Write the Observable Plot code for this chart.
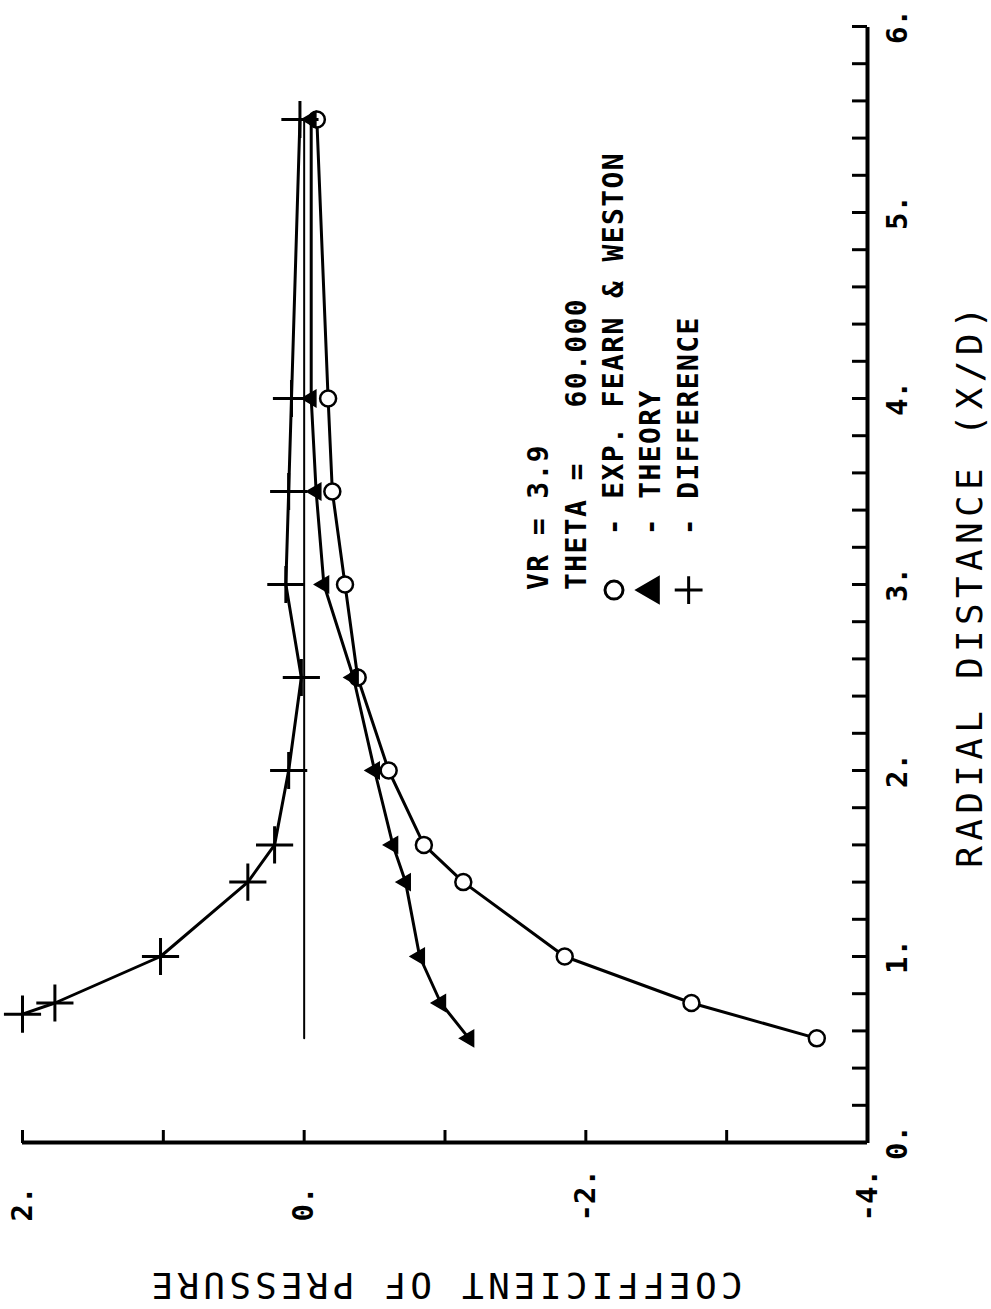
<!DOCTYPE html>
<html><head><meta charset="utf-8">
<script src="https://cdn.jsdelivr.net/npm/d3@7"></script>
<script src="https://cdn.jsdelivr.net/npm/@observablehq/plot@0.6"></script>
<style>
html,body{margin:0;padding:0;background:#fff;}
#wrap{position:relative;width:991px;height:1309px;overflow:hidden;background:#fff;}
#wrap svg{position:absolute;left:0;top:0;max-width:none !important;width:1309px !important;height:991px !important;transform-origin:0 0;transform:translate(0px,1309px) rotate(-90deg);}
#wrap svg text{white-space:pre;}
</style></head><body><div id="wrap"></div>
<script>
// ---- data ----
const radialDistance = [0.56, 0.75, 1.0, 1.4, 1.6, 2.0, 2.5, 3.0, 3.5, 4.0, 5.5];
const cpExperiment   = [-3.64, -2.75, -1.85, -1.13, -0.85, -0.60, -0.38, -0.29, -0.20, -0.17, -0.09];
const cpTheory       = [-1.17, -0.97, -0.82, -0.72, -0.63, -0.50, -0.35, -0.14, -0.085, -0.05, -0.05];
const diffDistance   = [0.69, 0.75, 1.0, 1.4, 1.6, 2.0, 2.5, 3.0, 3.5, 4.0, 5.5];
const cpDifference   = [2.0, 1.77, 1.02, 0.40, 0.21, 0.11, 0.02, 0.13, 0.11, 0.09, 0.03];
const zeroLineDistance = [0.56, 5.5];
const xMinorTicks = [0,0.2,0.4,0.6,0.8,1,1.2,1.4,1.6,1.8,2,2.2,2.4,2.6,2.8,3,3.2,3.4,3.6,3.8,4,4.2,4.4,4.6,4.8,5,5.2,5.4,5.6,5.8,6];
const xTickLabels = [0, 1, 2, 3, 4, 5, 6];
const yTicks = [2, 1, 0, -1, -2, -3, -4];
const yTickLabels = [2, 0, -2, -4];
const legendLines = ["VR = 3.9", "THETA =   60.000", "   - EXP. FEARN & WESTON", "   - THEORY", "   - DIFFERENCE"];
const legendSymbols = ["circle", "triangle", "plus"];
const xTitle = "RADIAL DISTANCE (X/D)";
const yTitle = "COEFFICIENT OF PRESSURE";

// ---- tables ----
const exp = radialDistance.map((x, i) => ({x, y: cpExperiment[i]}));
const theo = radialDistance.map((x, i) => ({x, y: cpTheory[i]}));
const diff = diffDistance.map((x, i) => ({x, y: cpDifference[i]}));
const zero = zeroLineDistance.map(x => ({x, y: 0}));

const W = 1309, H = 991;
const mL = 166, mR = 27, mT = 22, mB = 124;
const FONT = "DejaVu Sans Mono, Liberation Mono, monospace";

// legend anchor (annotation, in data units)
const legX = 2.97, legY0 = -1.67, legStep = -0.265;
const legend = legendLines.map((t, i) => ({t, x: legX, y: legY0 + i * legStep}));
const legendSym = legendSymbols.map((s, i) => ({s, x: legX, y: legY0 + (i + 2) * legStep}));

const svg = Plot.plot({
  width: W, height: H,
  marginLeft: mL, marginRight: mR, marginTop: mT, marginBottom: mB,
  x: {domain: [0, 6], axis: null},
  y: {domain: [-4, 2], axis: null},
  style: {background: "white", color: "black"},
  marks: [
    Plot.ruleY([-4], {stroke: "black", strokeWidth: 4}),
    Plot.ruleX([0], {stroke: "black", strokeWidth: 4}),
    Plot.tickX(xMinorTicks, {x: d => d, insetTop: (H - mT - mB) - 15, stroke: "black", strokeWidth: 3}),
    Plot.tickY(yTicks, {y: d => d, insetRight: (W - mL - mR) - 13, stroke: "black", strokeWidth: 3}),
    Plot.text(xTickLabels, {x: d => d, frameAnchor: "bottom", dy: 30, text: d => d + ".", lineAnchor: "middle",
      fontFamily: FONT, fontSize: 29, fontWeight: "bold", fill: "black"}),
    Plot.text(yTickLabels, {y: d => d, frameAnchor: "left", dx: -79, text: d => d + ".", textAnchor: "start", lineAnchor: "middle",
      fontFamily: FONT, fontSize: 29, fontWeight: "bold", fill: "black"}),
    Plot.text([xTitle], {frameAnchor: "bottom", dy: 103, text: d => d, textAnchor: "middle", lineAnchor: "middle",
      fontFamily: FONT, fontSize: 36, fill: "black"}),
    Plot.text([yTitle], {frameAnchor: "left", dx: -142, rotate: -90, text: d => d, textAnchor: "middle", lineAnchor: "middle",
      fontFamily: FONT, fontSize: 36, fill: "black"}),
    Plot.line(zero, {x: "x", y: "y", stroke: "black", strokeWidth: 2}),
    Plot.line(exp, {x: "x", y: "y", stroke: "black", strokeWidth: 3}),
    Plot.line(theo, {x: "x", y: "y", stroke: "black", strokeWidth: 3}),
    Plot.line(diff, {x: "x", y: "y", stroke: "black", strokeWidth: 3}),
    Plot.dot(exp, {x: "x", y: "y", symbol: "circle", r: 8, stroke: "black", strokeWidth: 2.5, fill: "white"}),
    Plot.dot(theo, {x: "x", y: "y", symbol: "triangle", r: 6, fill: "black", stroke: "black", strokeWidth: 1.5}),
    Plot.dot(diff, {x: "x", y: "y", symbol: "plus", r: 12, stroke: "black", strokeWidth: 3}),
    Plot.text(legend, {x: "x", y: "y", text: "t", textAnchor: "start", lineAnchor: "middle",
      fontFamily: FONT, fontSize: 28, fontWeight: "bold", fill: "black"}),
    Plot.dot(legendSym, {x: "x", y: "y", symbol: "s", r: 9, stroke: "black", strokeWidth: 3,
      fill: d => d.s === "triangle" ? "black" : "none"})
  ]
});
document.getElementById("wrap").appendChild(svg);
const texts = d3.select(svg).selectAll("text");
texts.filter(function() { return this.textContent === xTitle; }).style("letter-spacing", "5.3px");
texts.filter(function() { return this.textContent === yTitle; }).style("letter-spacing", "4.2px");
texts.filter(function() { return legendLines.includes(this.textContent); }).style("letter-spacing", "1.4px");
</script></body></html>
